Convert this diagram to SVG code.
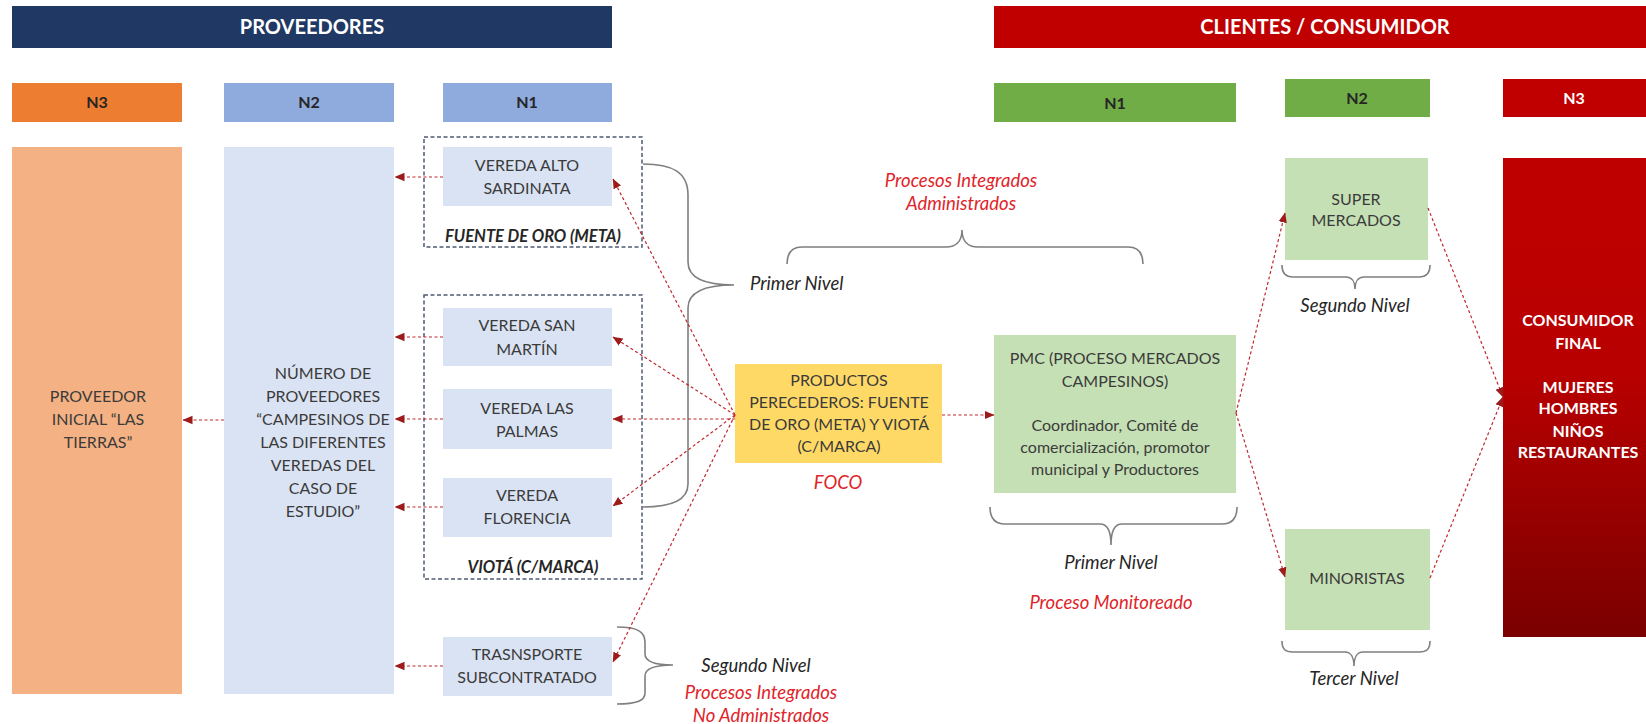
<svg xmlns="http://www.w3.org/2000/svg" width="1646" height="724" viewBox="0 0 1646 724">
<defs>
<marker id="ah" viewBox="0 0 10 10" refX="9.5" refY="5" markerWidth="10" markerHeight="10" markerUnits="userSpaceOnUse" orient="auto">
<path d="M0,0.8 L10,5 L0,9.2 z" fill="#9e1b1b"/>
</marker>
<linearGradient id="redgrad" x1="0" y1="0" x2="0" y2="1">
<stop offset="0" stop-color="#c00000"/>
<stop offset="0.45" stop-color="#b80000"/>
<stop offset="1" stop-color="#7a0000"/>
</linearGradient>
<style>
text{font-family:Lato,"Open Sans","Liberation Sans",sans-serif;}
.bt{font-size:16px;fill:#3b3b3b;text-anchor:middle;}
.hd{font-size:16px;font-weight:bold;fill:#262626;text-anchor:middle;}
.ttl{font-size:20px;font-weight:bold;fill:#ffffff;text-anchor:middle;}
.wt{font-size:16px;font-weight:bold;fill:#ffffff;text-anchor:middle;}
.lbl{font-size:18.5px;font-style:italic;fill:#262626;}
.red{font-size:18.5px;font-style:italic;fill:#e0242a;}
.grp{font-size:16.5px;font-style:italic;font-weight:bold;fill:#262626;text-anchor:middle;}
.dash{fill:none;stroke:#4e5b72;stroke-width:1.5;stroke-dasharray:4 2.5;}
.brace{fill:none;stroke:#7f7f7f;stroke-width:1.6;}
.con{fill:none;stroke:#c0282d;stroke-width:1.2;stroke-dasharray:3 2.5;marker-end:url(#ah);}
.ver{fill:#dae3f3;}
.grn{fill:#c5e0b4;}
</style>
</defs>
<rect width="1646" height="724" fill="#ffffff"/>

<g id="title-proveedores">
<rect x="12" y="6" width="600" height="42" fill="#203864"/>
<text class="ttl" x="312" y="34">PROVEEDORES</text>
</g>
<g id="title-clientes">
<rect x="994" y="6" width="652" height="42" fill="#c00000"/>
<text class="ttl" x="1325" y="34">CLIENTES / CONSUMIDOR</text>
</g>

<g id="hdr-p-n3"><rect x="12" y="83" width="170" height="39" fill="#ed7d31"/><text class="hd" x="97" y="108">N3</text></g>
<g id="hdr-p-n2"><rect x="224" y="83" width="170" height="39" fill="#8faadc"/><text class="hd" x="309" y="108">N2</text></g>
<g id="hdr-p-n1"><rect x="443" y="83" width="169" height="39" fill="#8faadc"/><text class="hd" x="527" y="108">N1</text></g>
<g id="hdr-c-n1"><rect x="994" y="83" width="242" height="39" fill="#70ad47"/><text class="hd" x="1115" y="109">N1</text></g>
<g id="hdr-c-n2"><rect x="1285" y="79" width="145" height="38" fill="#70ad47"/><text class="hd" x="1357" y="104">N2</text></g>
<g id="hdr-c-n3"><rect x="1503" y="79" width="143" height="38" fill="#c00000"/><text class="hd" x="1574" y="104" style="fill:#ffffff">N3</text></g>

<g id="proveedor-inicial">
<rect x="12" y="147" width="170" height="547" fill="#f4b183"/>
<text class="bt" x="98" y="402">PROVEEDOR</text>
<text class="bt" x="98" y="425">INICIAL “LAS</text>
<text class="bt" x="98" y="448">TIERRAS”</text>
</g>

<g id="numero-proveedores">
<rect x="224" y="147" width="170" height="547" fill="#dae3f3"/>
<text class="bt" x="323" y="379">NÚMERO DE</text>
<text class="bt" x="323" y="402">PROVEEDORES</text>
<text class="bt" x="323" y="425">“CAMPESINOS DE</text>
<text class="bt" x="323" y="448">LAS DIFERENTES</text>
<text class="bt" x="323" y="471">VEREDAS DEL</text>
<text class="bt" x="323" y="494">CASO DE</text>
<text class="bt" x="323" y="517">ESTUDIO”</text>
</g>

<g id="grupo-fuente-de-oro">
<rect class="dash" x="424" y="137" width="218" height="110"/>
<text class="grp" x="533" y="242">FUENTE DE ORO (META)</text>
</g>
<g id="grupo-viota">
<rect class="dash" x="424" y="295" width="218" height="284"/>
<text class="grp" x="533" y="573">VIOTÁ (C/MARCA)</text>
</g>

<g id="vereda-alto-sardinata">
<rect class="ver" x="443" y="147" width="169" height="59"/>
<text class="bt" x="527" y="171">VEREDA ALTO</text>
<text class="bt" x="527" y="194">SARDINATA</text>
</g>
<g id="vereda-san-martin">
<rect class="ver" x="443" y="308" width="169" height="58"/>
<text class="bt" x="527" y="331">VEREDA SAN</text>
<text class="bt" x="527" y="355">MARTÍN</text>
</g>
<g id="vereda-las-palmas">
<rect class="ver" x="443" y="389" width="169" height="60"/>
<text class="bt" x="527" y="414">VEREDA LAS</text>
<text class="bt" x="527" y="437">PALMAS</text>
</g>
<g id="vereda-florencia">
<rect class="ver" x="443" y="478" width="169" height="59"/>
<text class="bt" x="527" y="501">VEREDA</text>
<text class="bt" x="527" y="524">FLORENCIA</text>
</g>
<g id="transporte">
<rect class="ver" x="443" y="637" width="169" height="59"/>
<text class="bt" x="527" y="660">TRASNSPORTE</text>
<text class="bt" x="527" y="683">SUBCONTRATADO</text>
</g>

<g id="productos">
<rect x="735" y="364" width="207" height="99" fill="#ffd966"/>
<text class="bt" x="839" y="386">PRODUCTOS</text>
<text class="bt" x="839" y="408">PERECEDEROS: FUENTE</text>
<text class="bt" x="839" y="430">DE ORO (META) Y VIOTÁ</text>
<text class="bt" x="839" y="452">(C/MARCA)</text>
<text class="red" x="838" y="489" text-anchor="middle">FOCO</text>
</g>

<g id="pmc">
<rect class="grn" x="994" y="335" width="242" height="158"/>
<text class="bt" x="1115" y="364">PMC (PROCESO MERCADOS</text>
<text class="bt" x="1115" y="387">CAMPESINOS)</text>
<text class="bt" x="1115" y="431">Coordinador, Comité de</text>
<text class="bt" x="1115" y="453">comercialización, promotor</text>
<text class="bt" x="1115" y="475">municipal y Productores</text>
</g>

<g id="supermercados">
<rect class="grn" x="1285" y="158" width="143" height="102"/>
<text class="bt" x="1356" y="205">SUPER</text>
<text class="bt" x="1356" y="226">MERCADOS</text>
</g>
<g id="minoristas">
<rect class="grn" x="1285" y="529" width="145" height="101"/>
<text class="bt" x="1357" y="584">MINORISTAS</text>
</g>

<g id="consumidor-final">
<rect x="1503" y="158" width="143" height="479" fill="url(#redgrad)"/>
<text class="wt" x="1578" y="326">CONSUMIDOR</text>
<text class="wt" x="1578" y="349">FINAL</text>
<text class="wt" x="1578" y="393">MUJERES</text>
<text class="wt" x="1578" y="414">HOMBRES</text>
<text class="wt" x="1578" y="437">NIÑOS</text>
<text class="wt" x="1578" y="458">RESTAURANTES</text>
</g>

<g id="braces">
<path class="brace" d="M643,164 C672,164 688,172 688,195 L688,262 C688,278 706,285 734,285 C706,285 688,292 688,308 L688,484 C688,500 672,507 643,507"/>
<path class="brace" d="M617,627 C636,627 645,631 645,642 L645,654 C645,661 655,665 673,665 C655,665 645,669 645,676 L645,693 C645,701 636,704 617,704"/>
<path class="brace" d="M787,264 C787,252 792,247 802,247 L946,247 C956,247 962,241 962,230 C962,241 968,247 978,247 L1128,247 C1138,247 1143,252 1143,264"/>
<path class="brace" d="M990,507 C990,518 995,524 1005,524 L1100,524 C1107,524 1111,531 1111,545 C1111,531 1115,524 1122,524 L1222,524 C1232,524 1237,518 1237,507"/>
<path class="brace" d="M1282,265 C1282,273 1285,277 1293,277 L1346,277 C1352,277 1355,282 1355,289 C1355,282 1358,277 1364,277 L1419,277 C1427,277 1430,273 1430,265"/>
<path class="brace" d="M1282,641 C1282,649 1285,652 1293,652 L1345,652 C1351,652 1354,658 1354,666 C1354,658 1357,652 1363,652 L1419,652 C1427,652 1430,649 1430,641"/>
</g>

<g id="labels">
<text class="lbl" x="750" y="290">Primer Nivel</text>
<text class="red" x="961" y="187" text-anchor="middle">Procesos Integrados</text>
<text class="red" x="961" y="210" text-anchor="middle">Administrados</text>
<text class="lbl" x="756" y="672" text-anchor="middle">Segundo Nivel</text>
<text class="red" x="761" y="699" text-anchor="middle">Procesos Integrados</text>
<text class="red" x="761" y="722" text-anchor="middle">No Administrados</text>
<text class="lbl" x="1111" y="569" text-anchor="middle">Primer Nivel</text>
<text class="red" x="1111" y="609" text-anchor="middle">Proceso Monitoreado</text>
<text class="lbl" x="1355" y="312" text-anchor="middle">Segundo Nivel</text>
<text class="lbl" x="1354" y="685" text-anchor="middle">Tercer Nivel</text>
</g>

<g id="connectors">
<path class="con" d="M735,415 L613,179"/>
<path class="con" d="M735,415 L613,337"/>
<path class="con" d="M735,419 L613,419"/>
<path class="con" d="M735,415 L613,506"/>
<path class="con" d="M735,415 L613,662"/>
<path class="con" d="M443,177 L395,177"/>
<path class="con" d="M443,337 L395,337"/>
<path class="con" d="M443,419 L395,419"/>
<path class="con" d="M443,507 L395,507"/>
<path class="con" d="M443,666 L395,666"/>
<path class="con" d="M224,420 L183,420"/>
<path class="con" d="M942,415 L994,415"/>
<path class="con" d="M1236,413 L1285,213"/>
<path class="con" d="M1236,413 L1285,577"/>
<path class="con" d="M1428,208 L1503,397"/>
<path class="con" d="M1430,578 L1503,397"/>
</g>
</svg>
